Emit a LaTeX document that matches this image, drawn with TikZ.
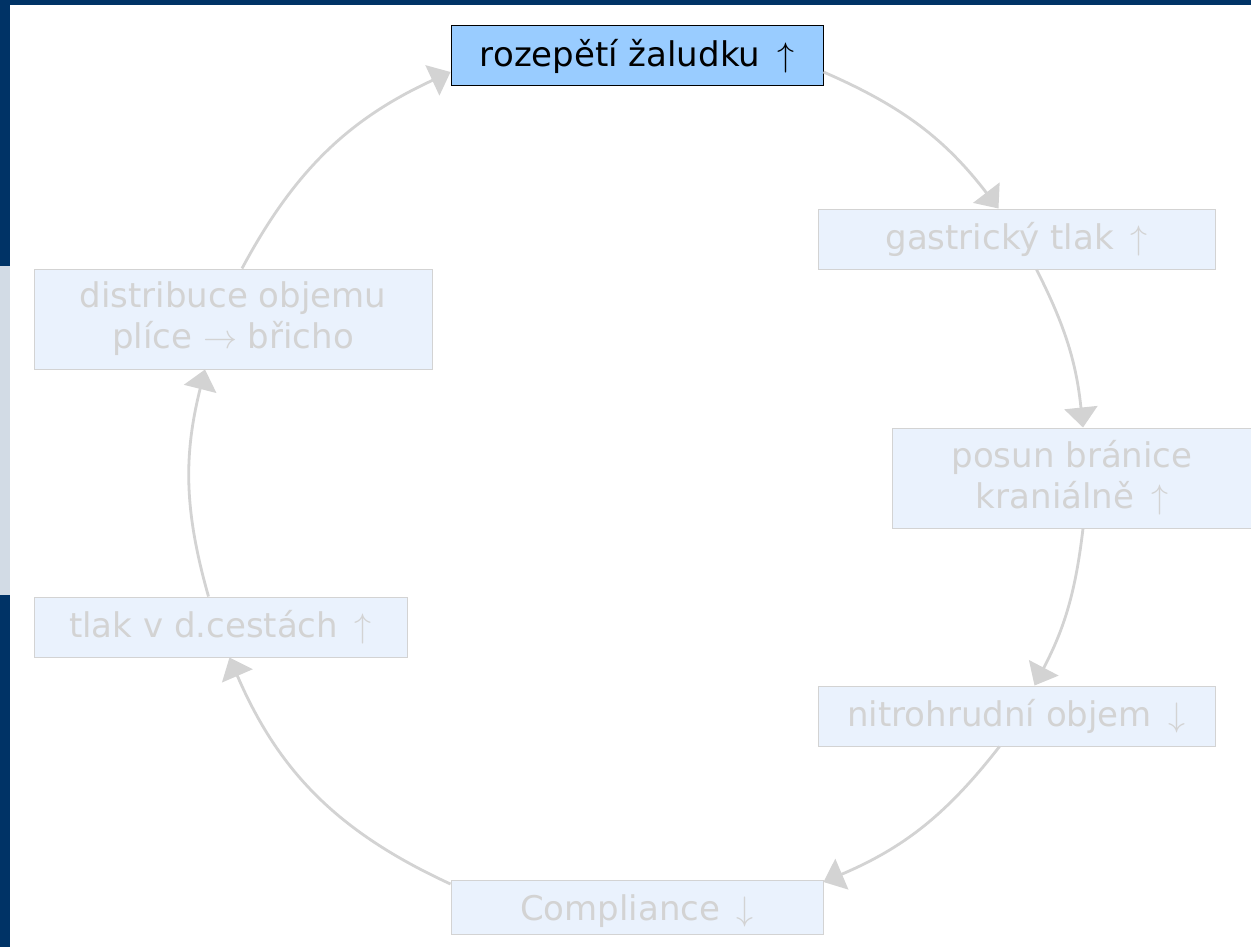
\RequirePackage{fix-cm}
\documentclass[tikz,border=0pt]{standalone}
\usepackage{fontspec}
\setmainfont{DejaVu Sans}
\usetikzlibrary{arrows.meta}
\definecolor{navy}{HTML}{003366}
\definecolor{sidegray}{HTML}{D2DBE5}
\definecolor{hilite}{HTML}{99CCFF}
\definecolor{paleblue}{HTML}{EAF2FD}
\definecolor{ghost}{HTML}{D3D3D3}
\newcommand{\myup}{\hspace{6pt}$\uparrow$}
\newcommand{\mydown}{\hspace{6pt}$\downarrow$}
\begin{document}
\begin{tikzpicture}[x=1pt,y=-1pt,
  basebox/.style={line width=1pt, inner sep=0pt, align=center,
    font=\fontsize{34}{41}\selectfont},
  box/.style={basebox, draw=ghost, fill=paleblue, text=ghost},
  activebox/.style={basebox, draw=black, fill=hilite, text=black},
  conn/.style={draw=ghost, line width=2.8pt, -{Triangle[length=20pt,width=33pt]}}
]
\useasboundingbox (0,0) rectangle (1251,947);
\fill[white] (0,0) rectangle (1251,947);
% frame
\fill[navy] (0,0) rectangle (1251,5);
\fill[navy] (0,0) rectangle (10,266);
\fill[sidegray] (0,266) rectangle (10,595);
\fill[navy] (0,595) rectangle (10,947);
% nodes
\node[activebox, minimum width=372pt, minimum height=60pt] (top) at (637,56) {rozepětí žaludku \myup};
\node[box, minimum width=397pt, minimum height=60pt] (gas) at (1016.5,239) {gastrický tlak \myup};
\node[box, minimum width=360pt, minimum height=100pt] (posun) at (1072,478) {posun bránice\\ kraniálně \myup};
\node[box, minimum width=397pt, minimum height=60pt] (nitro) at (1016.5,716) {nitrohrudní objem \mydown};
\node[box, minimum width=372pt, minimum height=54pt, text height=29pt, text depth=4pt] (comp) at (637,907.5) {Compliance \mydown};
\node[box, minimum width=373pt, minimum height=60pt] (tlak) at (220.5,627) {tlak v d.cestách \myup};
\node[box, minimum width=398pt, minimum height=100pt] (dist) at (233,319) {distribuce objemu\\ plíce $\rightarrow$ břicho};
% connectors
\draw[conn] ([yshift=-16pt]top.east) to[bend left=14.5] ([xshift=-18pt]gas.north);
\draw[conn] ([xshift=20pt]gas.south) to[bend left=10.5] ([xshift=11pt]posun.north);
\draw[conn] ([xshift=11pt]posun.south) to[bend left=10.5] ([xshift=18pt]nitro.north);
\draw[conn] ([xshift=-17pt]nitro.south) to[bend left=14.5] ([yshift=-2pt]comp.north east);
\draw[conn] ([yshift=-4pt]comp.north west) to[bend left=21] ([xshift=9pt]tlak.south);
\draw[conn] ([xshift=-12pt]tlak.north) to[bend left=15] ([xshift=-28pt]dist.south);
\draw[conn] ([xshift=9pt]dist.north) to[bend left=18.5] ([yshift=-16pt]top.west);
\end{tikzpicture}
\end{document}
